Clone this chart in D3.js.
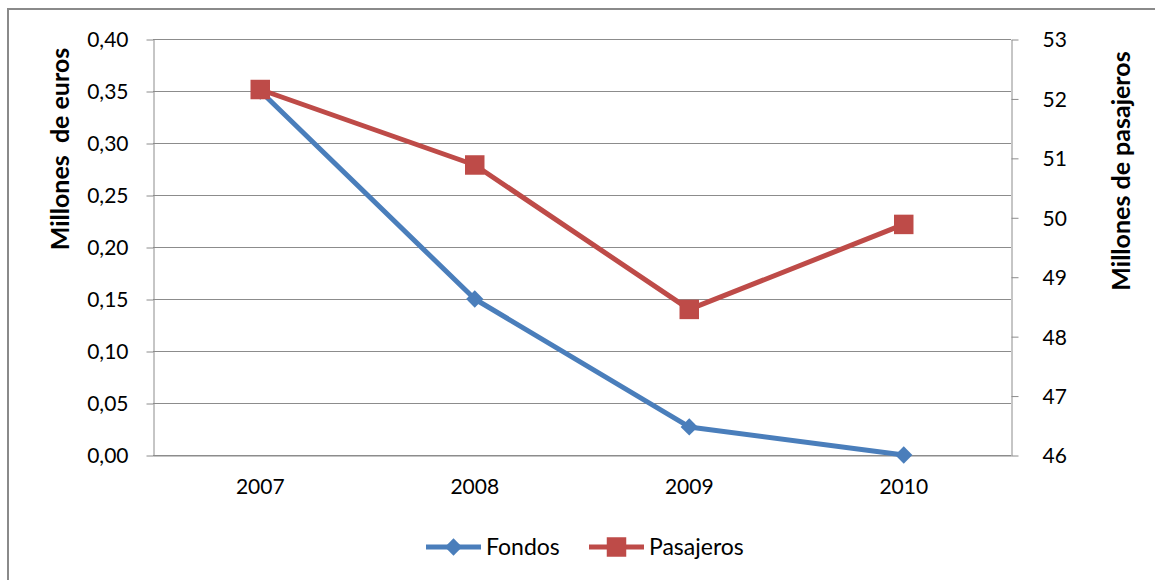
<!DOCTYPE html>
<meta charset="utf-8">
<style>
  body { margin: 0; background: #fff; }
  text { font-family: Lato, "Open Sans", sans-serif; fill: #000; }
</style>
<body>
<script src="https://d3js.org/d3.v7.min.js"></script>
<script>

var width = 1155,
    height = 580;

// data
var years = ["2007", "2008", "2009", "2010"];
var fondos = [0.35, 0.15, 0.027, 0.0];
var pasajeros = [52.15, 50.88, 48.45, 49.88];
var leftTicks = [0, 0.05, 0.10, 0.15, 0.20, 0.25, 0.30, 0.35, 0.40];
var rightTicks = [46, 47, 48, 49, 50, 51, 52, 53];

var blue = "#4a7ebb", red = "#be4b48", grid = "#8c8c8c";

var svg = d3.select("body").append("svg")
    .attr("width", width)
    .attr("height", height);

// chart area border
svg.append("rect")
    .attr("x", 8).attr("y", 9)
    .attr("width", 1170).attr("height", 600)
    .attr("fill", "none")
    .attr("stroke", "#8a8a8a")
    .attr("stroke-width", 2);

var plot = { left: 153, right: 1011, top: 39, bottom: 455 };

var x = d3.scaleBand().domain(years).range([plot.left, plot.right]);
var yL = d3.scaleLinear().domain([0, 0.40]).range([plot.bottom, plot.top]);
var yR = d3.scaleLinear().domain([46, 53]).range([plot.bottom, plot.top]);

// gridlines
svg.append("g").selectAll("line")
    .data(leftTicks)
    .enter().append("line")
    .attr("x1", plot.left).attr("x2", plot.right)
    .attr("y1", function(d) { return Math.round(yL(d)) + 0.5; })
    .attr("y2", function(d) { return Math.round(yL(d)) + 0.5; })
    .attr("stroke", grid);

var fmt = function(d) { return d3.format(".2f")(d).replace(".", ","); };

// left axis
var gl = svg.append("g")
    .attr("transform", "translate(" + (plot.left + 0.5) + ",0.5)")
    .call(d3.axisLeft(yL).tickValues(leftTicks).tickFormat(fmt).tickSizeInner(7).tickSizeOuter(0).tickPadding(18));
gl.selectAll("text").style("font-size", "21px").attr("fill", "#000").attr("dy", "0.35em");

// right axis
var gr = svg.append("g")
    .attr("transform", "translate(" + (plot.right + 0.5) + ",0.5)")
    .call(d3.axisRight(yR).tickValues(rightTicks).tickFormat(d3.format("d")).tickSizeInner(7).tickSizeOuter(0).tickPadding(24));
gr.selectAll("text").style("font-size", "21px").attr("fill", "#000").attr("dy", "0.35em");

[gl, gr].forEach(function(g) {
  g.select(".domain").attr("stroke", grid);
  g.selectAll(".tick line").attr("stroke", grid);
});

// bottom axis
var gb = svg.append("g")
    .attr("transform", "translate(0," + (plot.bottom + 0.5) + ")")
    .call(d3.axisBottom(x).tickSize(0).tickPadding(24));
gb.select(".domain").attr("stroke", grid);
gb.selectAll("text").style("font-size", "21px").attr("fill", "#000");

// axis titles
svg.append("text")
    .attr("transform", "translate(69,149) rotate(-90)")
    .attr("text-anchor", "middle")
    .style("font-size", "25px").style("font-weight", "700")
    .style("white-space", "pre")
    .text("Millones  de euros");

svg.append("text")
    .attr("transform", "translate(1130,171) rotate(-90)")
    .attr("text-anchor", "middle")
    .style("font-size", "25px").style("font-weight", "700")
    .text("Millones de pasajeros");

// lines
var cx = function(d, i) { return x(years[i]) + x.bandwidth() / 2; };

svg.append("path")
    .datum(pasajeros)
    .attr("fill", "none").attr("stroke", red).attr("stroke-width", 5)
    .attr("stroke-linejoin", "round")
    .attr("d", d3.line().x(cx).y(function(d) { return yR(d); }));

svg.append("path")
    .datum(fondos)
    .attr("fill", "none").attr("stroke", blue).attr("stroke-width", 5)
    .attr("stroke-linejoin", "round")
    .attr("d", d3.line().x(cx).y(function(d) { return yL(d); }));

var diamond = d3.symbol().type(d3.symbolDiamond2).size(190);
var square = d3.symbol().type(d3.symbolSquare).size(380);

svg.append("g").selectAll("path")
    .data(fondos)
    .enter().append("path")
    .attr("d", diamond)
    .attr("fill", blue)
    .attr("transform", function(d, i) { return "translate(" + cx(d, i) + "," + yL(d) + ")"; });

svg.append("g").selectAll("path")
    .data(pasajeros)
    .enter().append("path")
    .attr("d", square)
    .attr("fill", red)
    .attr("transform", function(d, i) { return "translate(" + cx(d, i) + "," + yR(d) + ")"; });

// legend
var legend = [
  { name: "Fondos", color: blue, sym: diamond, x: 426 },
  { name: "Pasajeros", color: red, sym: square, x: 589 }
];
var lg = svg.append("g").selectAll("g")
    .data(legend)
    .enter().append("g")
    .attr("transform", function(d) { return "translate(" + d.x + ",547)"; });
lg.append("line")
    .attr("x1", 0).attr("x2", 55)
    .attr("stroke", function(d) { return d.color; })
    .attr("stroke-width", 5);
lg.append("path")
    .attr("d", function(d) { return d.sym(); })
    .attr("fill", function(d) { return d.color; })
    .attr("transform", "translate(27.5,0)");
lg.append("text")
    .attr("x", 60).attr("dy", "0.35em")
    .style("font-size", "23px")
    .text(function(d) { return d.name; });

</script>
</body>
